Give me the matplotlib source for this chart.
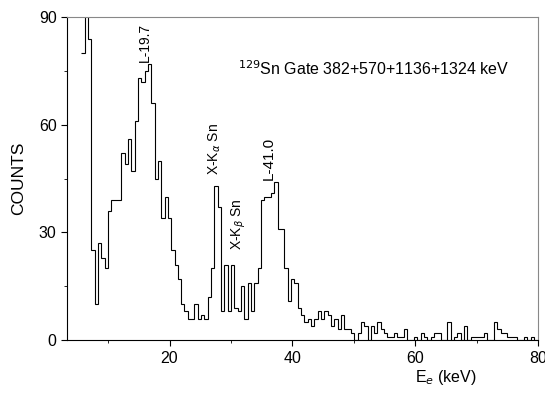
import numpy as np
import matplotlib
matplotlib.use("Agg")
import matplotlib.pyplot as plt
from matplotlib.ticker import MultipleLocator

plt.rcParams['font.family'] = ['Liberation Sans', 'DejaVu Sans']

# spectrum: counts per channel, channels of equal width
e_start = 5.63     # keV, lower edge of first channel
e_width = 0.542    # keV per channel
counts = [80, 105, 84, 25, 10, 27, 23, 20, 36, 39, 39, 39, 52, 49, 56,
          47, 61, 73, 72, 75, 77, 66, 45, 50, 34, 40, 34, 25, 21,
          17, 10, 8, 6, 6, 10, 6, 7, 6, 12, 20, 43, 37, 8, 21, 8, 21, 9, 8,
          15, 6, 16, 8, 16, 20, 39, 40, 40, 41, 44, 31, 31, 20, 11, 17, 16,
          9, 7, 5, 6, 4, 6, 8, 6, 8,
          7, 4, 6, 3, 7, 3, 3, 2, 0, 2, 5, 4, 0, 4, 2, 5, 3, 2, 1, 1, 2, 1,
          1, 3, 0, 0, 1, 0, 2, 1, 0, 1, 2, 2, 0, 0, 5, 0, 1, 2, 0, 4, 0, 1,
          1, 1, 1, 2, 0, 0, 5, 3, 2, 2, 1, 1, 1, 0, 0, 1, 0, 1, 0]
edges = e_start + e_width * np.arange(len(counts) + 1)

# peak labels (energy, height in counts)
peak_labels = ["L-19.7", "X-K$_{\\alpha}$ Sn", "X-K$_{\\beta}$ Sn", "L-41.0"]
peak_x = [16.0, 27.4, 31.3, 36.2]
peak_y = [77.5, 46, 25, 44.5]

fig = plt.figure(figsize=(5.45, 3.96), dpi=100)
ax = fig.add_axes([0.123, 0.141, 0.864, 0.816])

ax.stairs(counts, edges, baseline=None, color='black', lw=0.8)

ax.set_xlim(3.3, 80)
ax.set_ylim(0, 90)
ax.xaxis.set_major_locator(MultipleLocator(20))
ax.xaxis.set_minor_locator(MultipleLocator(10))
ax.yaxis.set_major_locator(MultipleLocator(30))
ax.yaxis.set_minor_locator(MultipleLocator(15))
ax.tick_params(which='both', direction='out', top=False, right=False, labelsize=11.5)
ax.tick_params(which='major', length=4)
ax.tick_params(which='minor', length=2.5)
for s in ['top', 'right']:
    ax.spines[s].set_color('#888888')

ax.set_ylabel("COUNTS", fontsize=12.5)
ax.set_xlabel("E$_{e}$ (keV)", fontsize=11.5)
ax.xaxis.set_label_coords(0.805, -0.085)
ax.yaxis.set_label_coords(-0.087, 0.5)

for lab, x, y in zip(peak_labels, peak_x, peak_y):
    fs = 11 if lab == "L-41.0" else 10
    ax.text(x, y, lab, rotation=90, ha='center', va='bottom', fontsize=fs)

ax.text(31.1, 75.7, "$^{129}$Sn Gate 382+570+1136+1324 keV", fontsize=11.5,
        ha='left', va='center')

fig.savefig("out.png", dpi=100)
